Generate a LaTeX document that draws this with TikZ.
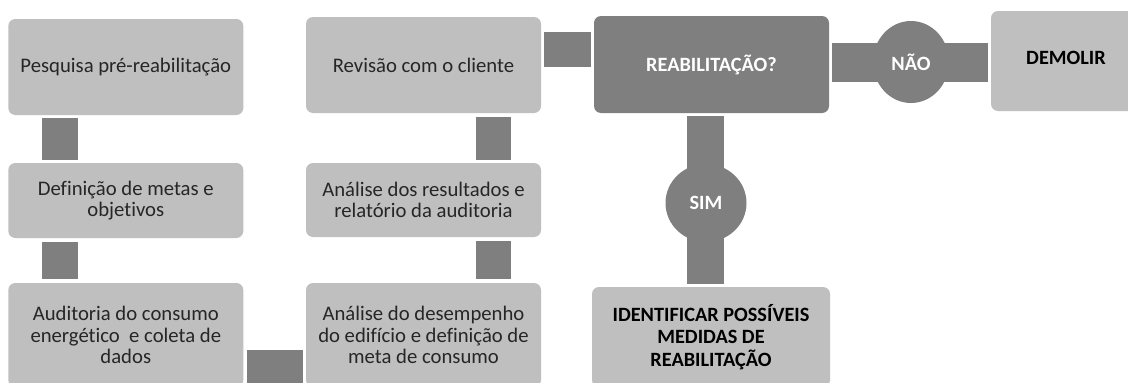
\documentclass[tikz,border=0pt]{standalone}
\usepackage{fontspec}
\setmainfont{Carlito}[Ligatures=NoCommon]
\usetikzlibrary{calc,shapes.geometric}
\definecolor{lightbox}{HTML}{BFBFBF}
\definecolor{darkbox}{HTML}{7F7F7F}
\definecolor{steptext}{HTML}{262626}
\tikzset{
  stepbox/.style={fill=lightbox, rounded corners=7pt, inner sep=0pt, align=center,
    text=steptext, font=\fontsize{20.7}{21.6}\selectfont, minimum width=235pt},
  decbox/.style={fill=darkbox, rounded corners=7pt, inner sep=0pt, align=center,
    text=white, font=\fontsize{20.3}{21.6}\selectfont\bfseries, minimum width=235pt},
  endbox/.style={fill=lightbox, rounded corners=7pt, inner sep=0pt, align=center,
    text=black, font=\fontsize{20.3}{22.5}\selectfont\bfseries},
  bar/.style={draw=darkbox, line cap=butt},
  answer/.style={ellipse, fill=darkbox, inner sep=0pt, text=white,
    font=\fontsize{20.3}{21.6}\selectfont\bfseries}
}
\begin{document}
\begin{tikzpicture}[x=1pt,y=-1pt]
\path[use as bounding box, clip] (0,0) rectangle (1128,383);
\fill[white] (0,0) rectangle (1128,383);
% left column
\node[stepbox, minimum height=96pt] (b1) at (125.8,67) {Pesquisa pré-reabilitação};
\node[stepbox, minimum height=75pt] (b2) at (125.8,200.5) {Definição de metas e\\objetivos};
\node[stepbox, minimum height=104pt] (b3) at (125.8,335) {Auditoria do consumo\\energético \ e coleta de\\dados};
% right column
\node[stepbox, minimum height=96pt] (b4) at (423.5,65) {Revisão com o cliente};
\node[stepbox, minimum height=74pt] (b5) at (423.5,200) {Análise dos resultados e\\relatório da auditoria};
\node[stepbox, minimum height=104pt] (b6) at (423.5,335) {Análise do desempenho\\do edifício e definição de\\meta de consumo};
% decision
\node[decbox, minimum height=97pt] (reab) at (711.5,64.5) {REABILITAÇÃO?};
\node[endbox, minimum width=238pt, minimum height=100pt] (ident) at (711,337) {IDENTIFICAR POSSÍVEIS\\MEDIDAS DE\\REABILITAÇÃO};
\node[endbox, minimum width=150pt, minimum height=100pt] (dem) at (1066,61) {};
\node[font=\fontsize{20.3}{21.6}\selectfont\bfseries, text=black] (demt) at (1066,58) {DEMOLIR};
% connectors
\draw[bar, line width=36pt] ($(b1.south west)+(51.4,3)$) -- ($(b2.north west)+(51.4,-3)$);
\draw[bar, line width=36pt] ($(b2.south west)+(51.4,4)$) -- ($(b3.north west)+(51.4,-4)$);
\draw[bar, line width=35pt] ($(b4.south west)+(187.5,4)$) -- ($(b5.north west)+(187.5,-3)$);
\draw[bar, line width=35pt] ($(b5.south west)+(187.5,4)$) -- ($(b6.north west)+(187.5,-4)$);
\draw[bar, line width=36pt] ($(b3.south east)+(3,-19)$) -- ($(b6.south west)+(-3,-19)$);
\draw[bar, line width=35pt] ($(b4.east)+(3,-15.5)$) -- ($(reab.west)+(-3,-15)$);
\draw[bar, line width=39pt] ($(reab.east)+(3,-2)$) -- ($(dem.west)+(-3,1.5)$);
\draw[bar, line width=37pt] ($(reab.south)+(-6,3)$) -- ($(ident.north)+(-5.5,-3)$);
% answers
\node[answer, minimum width=76pt, minimum height=82pt] (nao) at (911,62) {NÃO};
\node[answer, minimum width=81pt, minimum height=78pt] (sim) at (706,203) {SIM};
\end{tikzpicture}
\end{document}
